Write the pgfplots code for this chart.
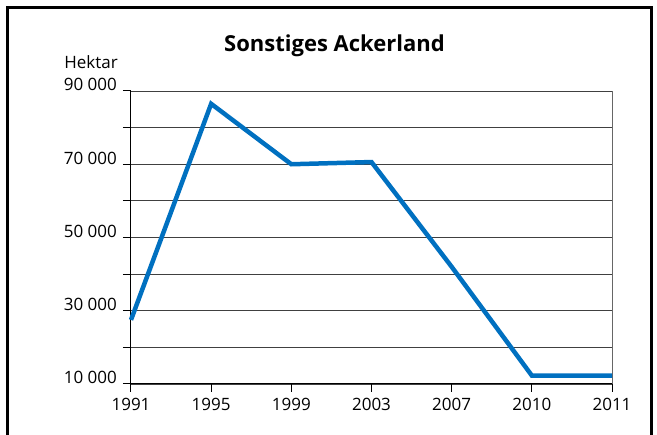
\documentclass[border=0pt]{standalone}
\usepackage{fontspec}
\setmainfont{Open Sans}
\usepackage{pgfplots}
\pgfplotsset{compat=1.18}
\definecolor{lineblue}{RGB}{0,112,192}
\begin{document}
\fontsize{17}{20}\selectfont
\begin{tikzpicture}[x=1pt,y=1pt]
\useasboundingbox (-131,-51) rectangle (526,384);
\draw[line width=3pt] (-123,-60) -- (-123,376) -- (520,376) -- (520,-60);
\node[font=\fontsize{22}{26}\selectfont\bfseries] at (203.5,338) {Sonstiges Ackerland};
\node[anchor=east,inner sep=0pt] at (-13,322) {Hektar};
\begin{axis}[
  at={(0,0)}, anchor=origin,
  scale only axis, width=481pt, height=293pt,
  xmin=0, xmax=6, ymin=10000, ymax=90000,
  scaled ticks=false,
  axis lines*=left,
  axis line style={black, line width=1pt},
  xtick={0,1,2,3,4,5,6},
  xticklabels={1991,1995,1999,2003,2007,2010,2011},
  ytick={10000,20000,...,90000},
  yticklabels={10 000,,30 000,,50 000,,70 000,,90 000},
  tick align=outside, major tick length=8pt,
  tick style={black, line width=1pt},
  ymajorgrids, grid style={black!75, line width=0.8pt},
  yticklabel style={anchor=base east, inner sep=0pt, xshift=-6pt, yshift=0pt},
  xticklabel style={inner sep=0pt, yshift=-6pt},
  /pgf/number format/assume math mode=true,
  ticklabel style={font=\fontsize{17}{20}\selectfont},
  clip=false,
]
\draw[black!60, line width=1pt] (rel axis cs:1,0) -- (rel axis cs:1,1);
\addplot[lineblue, line width=4.5pt, line join=miter] coordinates {
  (0,27500) (1,86500) (2,70000) (3,70600) (4,42000) (5,12300) (6,12300)
};
\end{axis}
\end{tikzpicture}
\end{document}
